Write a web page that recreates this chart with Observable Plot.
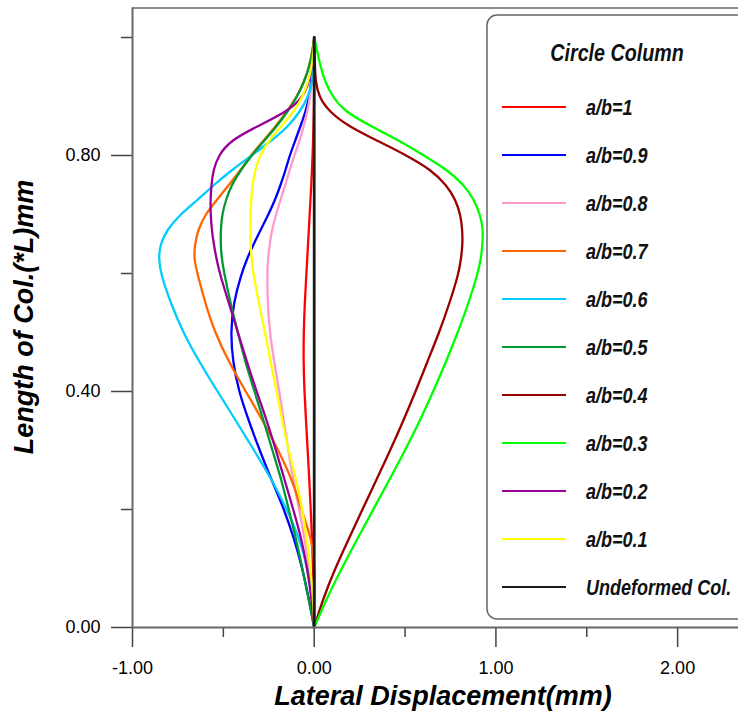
<!DOCTYPE html>
<html><head><meta charset="utf-8">
<script src="https://cdn.jsdelivr.net/npm/d3@7"></script>
<script src="https://cdn.jsdelivr.net/npm/@observablehq/plot@0.6"></script>
<style>
html,body{margin:0;padding:0;background:#fff;}
#chart{width:738px;height:711px;overflow:hidden;}
</style></head><body><div id="chart"></div>
<script>
// Heights along the column (*L)
const heights = [0, 0.05, 0.1, 0.15, 0.2, 0.25, 0.3, 0.35, 0.4, 0.45, 0.5, 0.55, 0.6, 0.625, 0.65, 0.675, 0.7, 0.725, 0.75, 0.775, 0.8, 0.825, 0.85, 0.875, 0.9, 0.925, 0.95, 0.975, 1.0];

// Lateral displacement (mm) at each height
const ab10 = [0,-0.002,-0.006,-0.012,-0.019,-0.027,-0.036,-0.045,-0.054,-0.059,-0.058,-0.052,-0.043,-0.0385,-0.034,-0.0295,-0.025,-0.0205,-0.016,-0.0125,-0.009,-0.006,-0.004,-0.002,-0.001,0,0,0,0];
const ab09 = [0,-0.03,-0.065,-0.11,-0.165,-0.235,-0.30,-0.36,-0.415,-0.448,-0.46,-0.445,-0.40,-0.37,-0.333,-0.293,-0.252,-0.215,-0.185,-0.158,-0.135,-0.105,-0.075,-0.047,-0.026,-0.017,-0.01,-0.004,0];
const ab08 = [0,-0.008,-0.027,-0.053,-0.083,-0.115,-0.143,-0.167,-0.192,-0.22,-0.245,-0.256,-0.259,-0.254,-0.245,-0.232,-0.21,-0.185,-0.16,-0.135,-0.11,-0.08,-0.057,-0.038,-0.022,-0.012,-0.006,-0.002,0];
const ab07 = [0,0.003,0.004,-0.013,-0.072,-0.12,-0.197,-0.281,-0.377,-0.47,-0.547,-0.60,-0.643,-0.662,-0.657,-0.638,-0.60,-0.535,-0.47,-0.405,-0.35,-0.28,-0.21,-0.15,-0.095,-0.056,-0.028,-0.01,0];
const ab06 = [0,-0.012,-0.035,-0.08,-0.15,-0.232,-0.33,-0.43,-0.532,-0.632,-0.722,-0.79,-0.845,-0.856,-0.848,-0.808,-0.738,-0.64,-0.553,-0.455,-0.345,-0.235,-0.14,-0.077,-0.032,-0.01,-0.003,-0.001,0];
const ab05 = [0,-0.032,-0.065,-0.10,-0.14,-0.18,-0.23,-0.278,-0.328,-0.38,-0.42,-0.461,-0.495,-0.509,-0.515,-0.514,-0.507,-0.486,-0.455,-0.405,-0.345,-0.275,-0.205,-0.145,-0.093,-0.055,-0.028,-0.01,0];
const ab04 = [0,0.05,0.115,0.19,0.265,0.342,0.418,0.49,0.558,0.622,0.688,0.745,0.795,0.808,0.817,0.815,0.805,0.778,0.728,0.646,0.51,0.347,0.185,0.08,0.025,0.008,0.004,0.002,0];
const ab03 = [0,0.07,0.151,0.237,0.325,0.413,0.5,0.581,0.655,0.725,0.79,0.85,0.9,0.918,0.926,0.93,0.913,0.88,0.825,0.735,0.604,0.47,0.31,0.165,0.10,0.06,0.035,0.018,0];
const ab02 = [0,-0.015,-0.038,-0.07,-0.115,-0.163,-0.21,-0.26,-0.317,-0.37,-0.42,-0.47,-0.52,-0.538,-0.553,-0.564,-0.57,-0.571,-0.566,-0.556,-0.527,-0.463,-0.31,-0.145,-0.057,-0.03,-0.013,-0.004,0];
const ab01 = [0,-0.006,-0.02,-0.04,-0.066,-0.098,-0.142,-0.175,-0.207,-0.24,-0.27,-0.305,-0.335,-0.345,-0.35,-0.352,-0.35,-0.347,-0.34,-0.325,-0.30,-0.25,-0.18,-0.11,-0.063,-0.033,-0.014,-0.004,0];
const undeformedHeights = [0, 1];
const undeformedX = [0, 0];

const seriesNames = ["a/b=1","a/b=0.9","a/b=0.8","a/b=0.7","a/b=0.6","a/b=0.5","a/b=0.4","a/b=0.3","a/b=0.2","a/b=0.1","Undeformed Col."];
const seriesColors = ["#ff0000","#0000ff","#ff99cc","#ff6600","#00ccff","#009933","#990000","#00ff00","#990099","#ffff00","#1a1a1a"];
const seriesValues = [ab10, ab09, ab08, ab07, ab06, ab05, ab04, ab03, ab02, ab01];

const legendTitle = "Circle Column";
const xTitle = "Lateral Displacement(mm)";
const yTitle = "Length of Col.(*L)mm";
const xTicks = [-1, 0, 1, 2];
const xMinorTicks = [-0.5, 0.5, 1.5];
const yTicks = [0, 0.4, 0.8];
const yMinorTicks = [0.2, 0.6, 1.0];

const rows = [];
seriesValues.forEach((vals, i) => vals.forEach((v, j) => rows.push({series: seriesNames[i], x: v, y: heights[j]})));
const undeformed = undeformedHeights.map((h, j) => ({series: seriesNames[10], x: undeformedX[j], y: h}));

const fmt = d => d.toFixed(2);
const axisColor = "#666666";

const plot = Plot.plot({
  width: 738, height: 711,
  marginLeft: 132, marginRight: 0, marginTop: 7.5, marginBottom: 84,
  x: {domain: [-1, 2.335]},
  y: {domain: [0, 1.05]},
  color: {domain: seriesNames, range: seriesColors},
  style: {fontFamily: "'Liberation Sans', Arial, sans-serif", fontSize: "18px", color: "#000", background: "#fff"},
  marks: [
    Plot.ruleY([1.05], {stroke: axisColor, strokeWidth: 1.5}),
    Plot.line(rows, {x: "x", y: "y", z: "series", stroke: "series", strokeWidth: 2.3, curve: "basis"}),
    Plot.line(undeformed, {x: "x", y: "y", stroke: "series", strokeWidth: 2.8}),
    Plot.axisX(xTicks, {tickSize: 20, tickPadding: 14, tickFormat: fmt, stroke: "#444", strokeWidth: 1.5, fill: "#000", label: null, fontSize: 18}),
    Plot.axisX(xMinorTicks, {tickSize: 10, tickFormat: () => "", stroke: "#444", strokeWidth: 1.5, label: null}),
    Plot.axisY(yTicks, {tickSize: 21, tickPadding: 11, tickFormat: fmt, stroke: "#444", strokeWidth: 1.5, fill: "#000", label: null, fontSize: 18}),
    Plot.axisY(yMinorTicks, {tickSize: 11, tickFormat: () => "", stroke: "#444", strokeWidth: 1.5, label: null}),
    Plot.ruleY([0], {stroke: axisColor, strokeWidth: 2}),
    Plot.ruleX([-1], {stroke: axisColor, strokeWidth: 2})
  ]
});

const svg = d3.select(plot);
const titleFont = "'Liberation Sans', Arial, sans-serif";

svg.append("text")
  .attr("transform", "translate(33,317) rotate(-90)")
  .attr("text-anchor", "middle")
  .attr("font-family", titleFont).attr("font-weight", "bold").attr("font-style", "italic")
  .attr("font-size", 27).attr("fill", "#000")
  .text(yTitle);

svg.append("text")
  .attr("x", 443).attr("y", 705)
  .attr("text-anchor", "middle")
  .attr("font-family", titleFont).attr("font-weight", "bold").attr("font-style", "italic")
  .attr("font-size", 27).attr("fill", "#000")
  .text(xTitle);

// Legend box
const lg = svg.append("g");
lg.append("rect")
  .attr("x", 487).attr("y", 15).attr("width", 320).attr("height", 604)
  .attr("rx", 10).attr("ry", 10)
  .attr("fill", "#fff").attr("stroke", axisColor).attr("stroke-width", 1.5);
lg.append("text")
  .attr("transform", "translate(617,61) scale(0.82,1)")
  .attr("text-anchor", "middle")
  .attr("font-family", titleFont).attr("font-weight", "bold").attr("font-style", "italic")
  .attr("font-size", 24).attr("fill", "#111")
  .text(legendTitle);
seriesNames.forEach((name, i) => {
  const yy = 107 + 48 * i;
  lg.append("line")
    .attr("x1", 502).attr("x2", 566).attr("y1", yy).attr("y2", yy)
    .attr("stroke", seriesColors[i]).attr("stroke-width", 2.2);
  lg.append("text")
    .attr("transform", `translate(586,${yy + 8}) scale(0.82,1)`)
    .attr("text-anchor", "start")
    .attr("font-family", titleFont).attr("font-weight", "bold").attr("font-style", "italic")
    .attr("font-size", 22).attr("fill", "#111")
    .text(name);
});

document.getElementById("chart").appendChild(plot);
</script>
</body></html>
